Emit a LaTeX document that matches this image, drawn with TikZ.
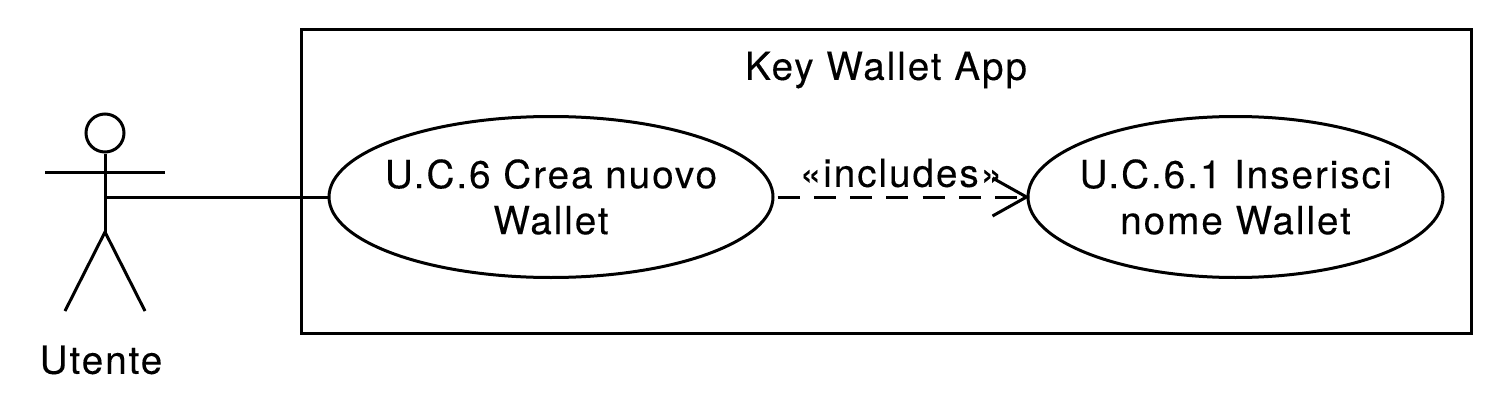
\documentclass[tikz,border=0pt]{standalone}
\usepackage{fontspec}
\setmainfont[LetterSpace=5,FakeBold=0.25]{TeX Gyre Heros}
\usetikzlibrary{arrows.meta,shapes.geometric}
\begin{document}
\begin{tikzpicture}[x=1pt,y=-1pt,
  ln/.style={draw=black,line width=3pt},
  uc/.style={ln,ellipse,fill=white,inner ysep=-30pt,inner xsep=-30pt,minimum width=444pt,minimum height=161pt,align=center,font=\fontsize{38.7}{46}\selectfont},
  uc2/.style={uc,minimum width=415pt},
  lbl/.style={font=\fontsize{38.7}{40}\selectfont,inner sep=0pt,text=black}]
\useasboundingbox (0,0) rectangle (1498,412);
\node[ln,draw,rectangle,minimum width=1170pt,minimum height=303pt,inner sep=0pt] (sys) at (886,181.5) {};
\node[lbl] (title) at (886,70) {Key Wallet App};
\node[uc] (a) at (551,197) {U.C.6 Crea nuovo\\Wallet};
\node[uc2] (b) at (1235.5,197) {U.C.6.1 Inserisci\\nome Wallet};
% actor
\node[ln,draw,circle,minimum size=38pt,inner sep=0pt] (head) at (105,133) {};
\coordinate (hip) at (105,232);
\coordinate (armL) at (45,172);
\coordinate (armR) at (165,172);
\coordinate (legL) at (65,311);
\coordinate (legR) at (145,311);
\coordinate (w) at (105,197);
\draw[ln] (head.south) -- (hip);
\draw[ln] (armL) -- (armR);
\draw[ln] (legL) -- (hip) -- (legR);
\node[lbl] (u) at (101,360) {Utente};
\draw[ln] (w) -- (a.west);
\coordinate (as) at ([xshift=3pt]a.east);
\draw[ln,dash pattern=on 22pt off 14.3pt] (as) -- (b.west);
\coordinate (tipA) at ([xshift=-34pt,yshift=-19pt]b.west);
\coordinate (tipB) at ([xshift=-34pt,yshift=19pt]b.west);
\draw[ln] (tipA) -- (b.west) -- (tipB);
\node[lbl] (inc) at (901,173) {«includes»};
\end{tikzpicture}
\end{document}
